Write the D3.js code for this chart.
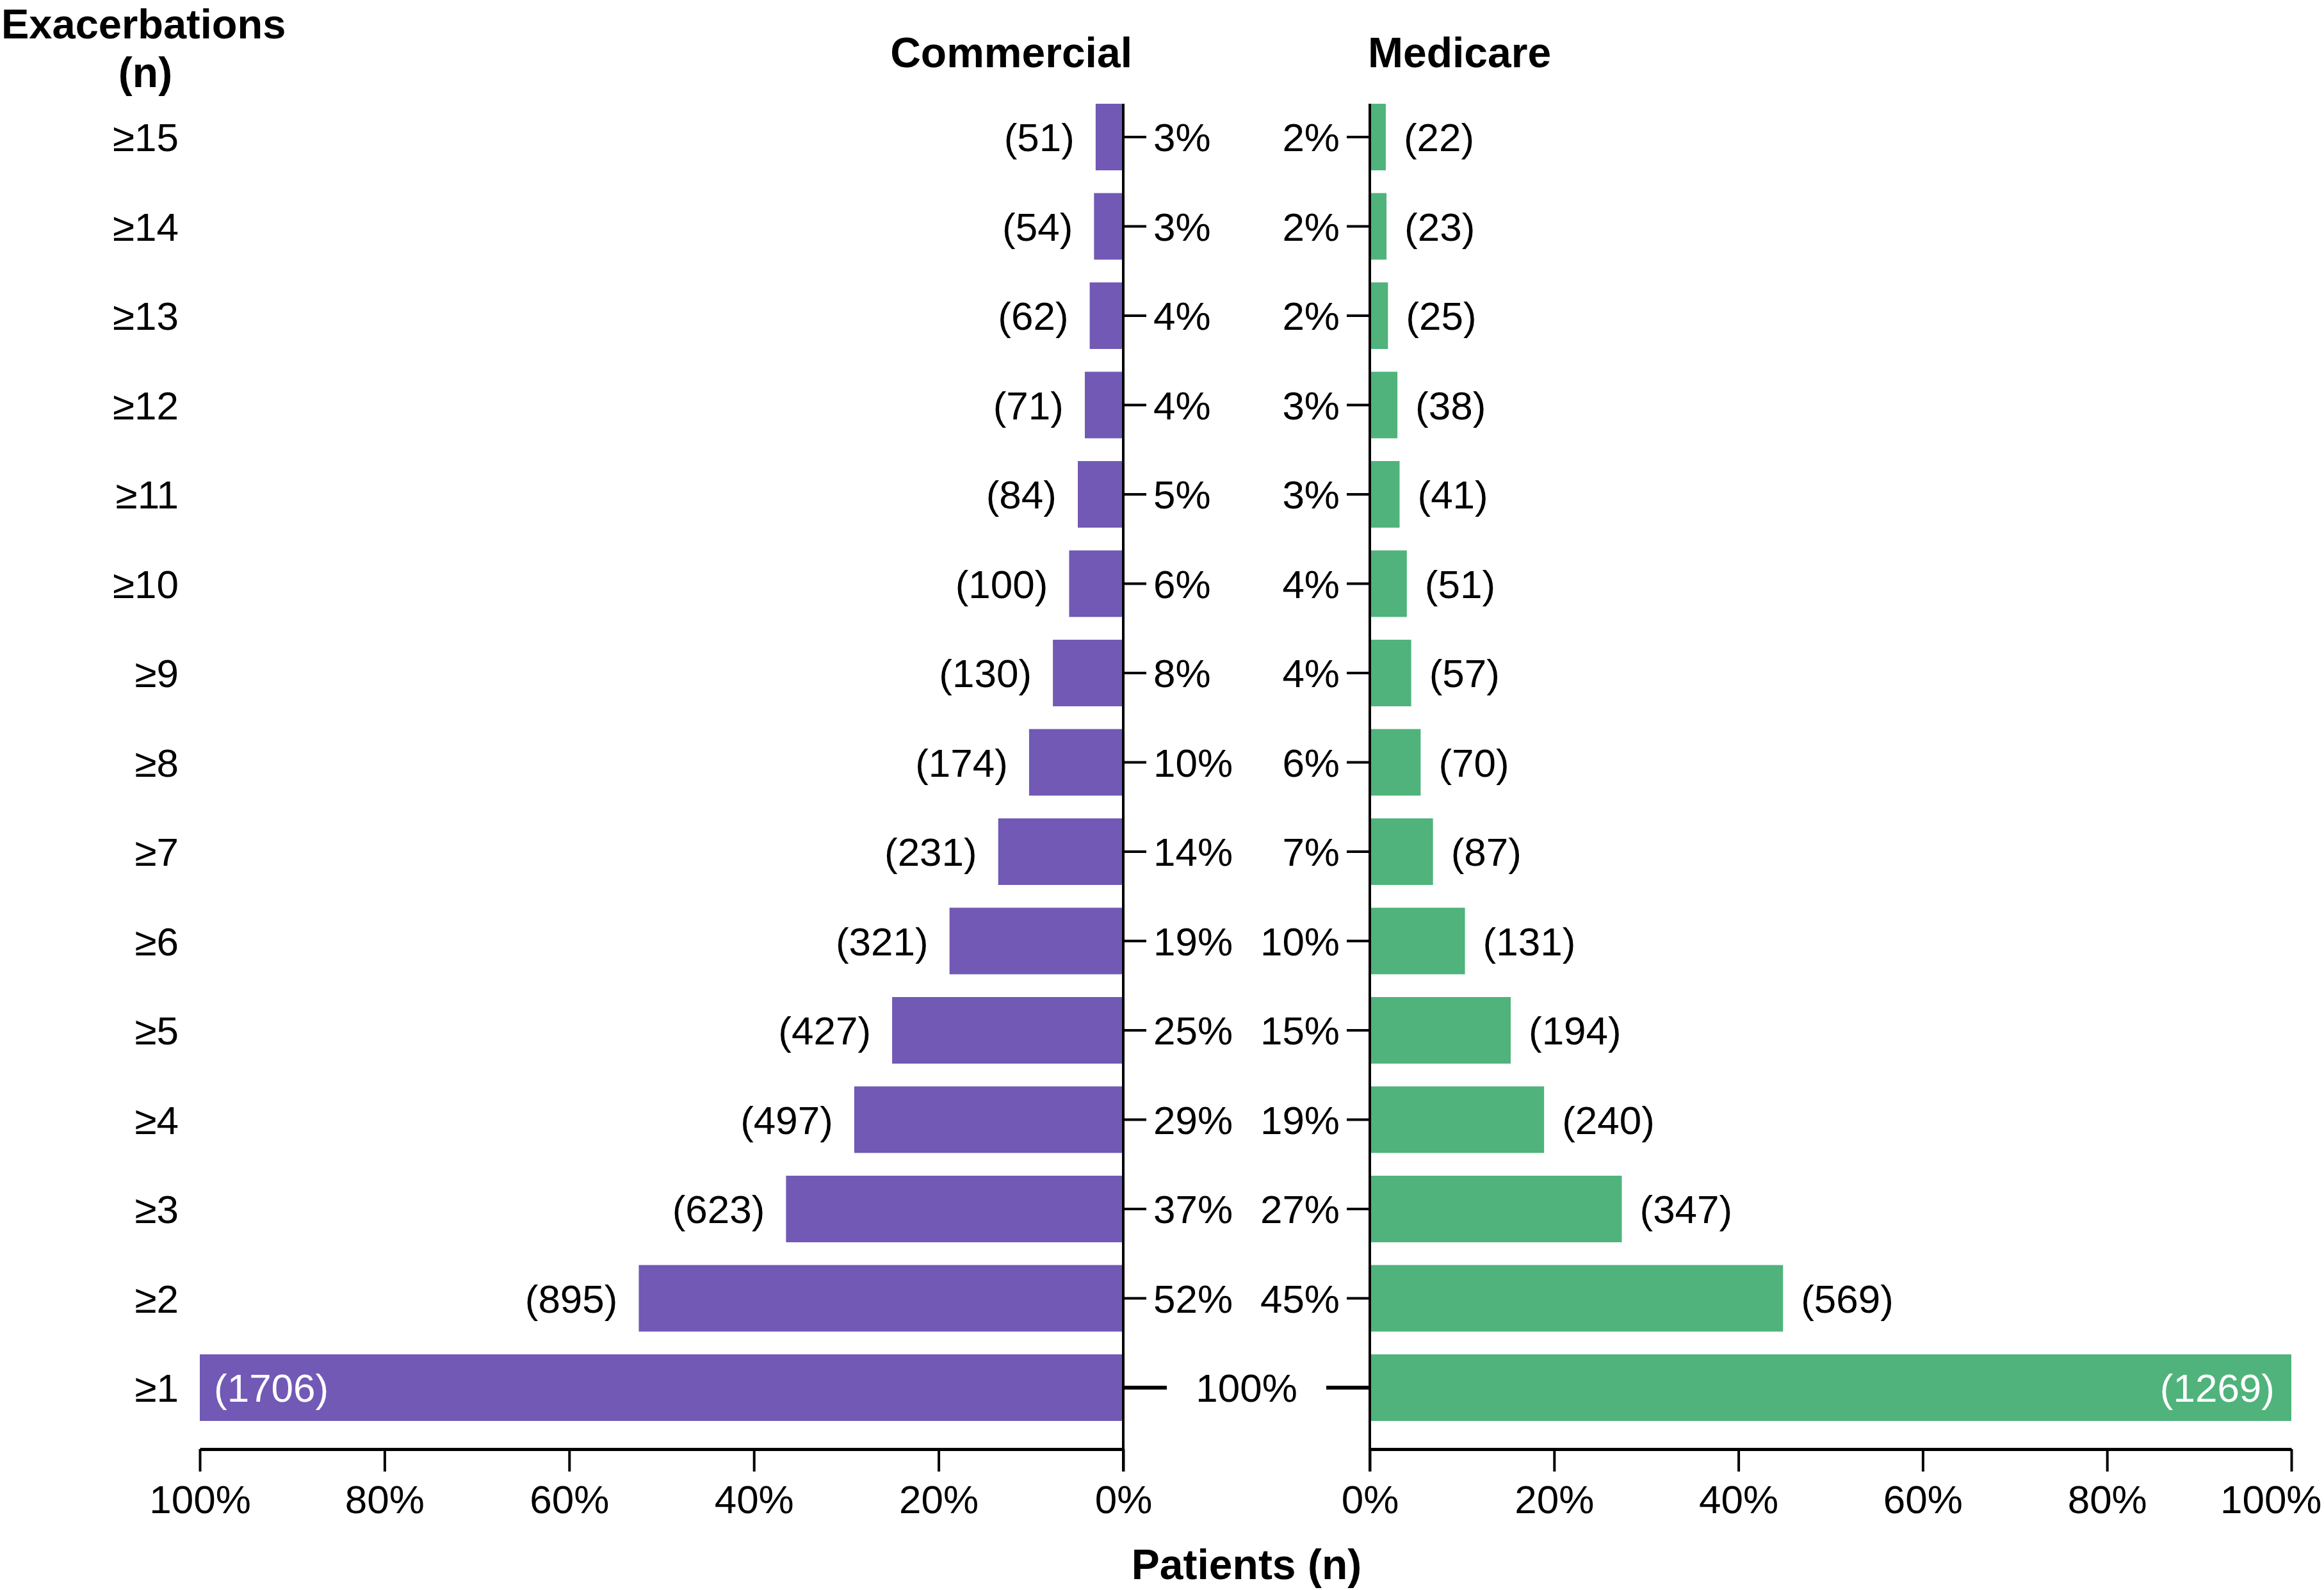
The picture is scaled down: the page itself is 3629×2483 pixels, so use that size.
<html>
<head>
<script src="https://d3js.org/d3.v7.min.js" charset="utf-8"></script>
<style>
body { margin: 0; background: #fff; }
text { font-family: "Liberation Sans", Arial, sans-serif; }
</style>
</head>
<body>
<div id="canvas"></div>
<script>
// rows from top (>=15) to bottom (>=1)
var categories = ["≥15","≥14","≥13","≥12","≥11","≥10","≥9","≥8","≥7","≥6","≥5","≥4","≥3","≥2","≥1"];
var commercialN = [51,54,62,71,84,100,130,174,231,321,427,497,623,895,1706];
var commercialPct = [3,3,4,4,5,6,8,10,14,19,25,29,37,52,100];
var medicareN = [22,23,25,38,41,51,57,70,87,131,194,240,347,569,1269];
var medicarePct = [2,2,2,3,3,4,4,6,7,10,15,19,27,45,100];
var xTicks = [0,0.2,0.4,0.6,0.8,1];

var W = 3629, H = 2483, fs = 62;
var purple = "#7159b5", green = "#4fb37b";

var svg = d3.select("#canvas").append("svg").attr("width", W).attr("height", H);

var y = d3.scaleBand().domain(categories).range([144.25, 2236.75])
	.paddingInner(0.255).paddingOuter(0.1275);
var xL = d3.scaleLinear().domain([0,1]).range([1754, 312]);
var xR = d3.scaleLinear().domain([0,1]).range([2139, 3578]);
var axisY = 2263, tickLen = 35;
var totC = commercialN[commercialN.length-1], totM = medicareN[medicareN.length-1];

// headers
svg.append("text").attr("x",2).attr("y",60).attr("text-anchor","start")
	.attr("font-size",65).attr("font-weight","bold").text("Exacerbations");
svg.append("text").attr("x",227).attr("y",136).attr("text-anchor","middle")
	.attr("font-size",66).attr("font-weight","bold").text("(n)");
svg.append("text").attr("x",1768).attr("y",105).attr("text-anchor","end")
	.attr("font-size",66).attr("font-weight","bold").text("Commercial");
svg.append("text").attr("x",xR(0)-3).attr("y",105).attr("text-anchor","start")
	.attr("font-size",66).attr("font-weight","bold").text("Medicare");
svg.append("text").attr("x",(xL(0)+xR(0))/2).attr("y",2466).attr("text-anchor","middle")
	.attr("font-size",66).attr("font-weight","bold").text("Patients (n)");

// category labels
svg.selectAll(".cat").data(categories).enter().append("text")
	.attr("class","cat")
	.attr("x",279)
	.attr("y",function(d){ return y(d)+y.bandwidth()/2; })
	.attr("dy","0.36em")
	.attr("text-anchor","end")
	.attr("font-size",fs)
	.text(function(d){ return d; });

// bars
svg.selectAll(".barL").data(commercialN).enter().append("rect")
	.attr("x",function(d){ return xL(d/totC); })
	.attr("y",function(d,i){ return y(categories[i]); })
	.attr("width",function(d){ return xL(0)-xL(d/totC); })
	.attr("height",y.bandwidth())
	.attr("fill",purple);
svg.selectAll(".barR").data(medicareN).enter().append("rect")
	.attr("x",xR(0))
	.attr("y",function(d,i){ return y(categories[i]); })
	.attr("width",function(d){ return xR(d/totM)-xR(0); })
	.attr("height",y.bandwidth())
	.attr("fill",green);

// count labels
var last = categories.length-1;
svg.selectAll(".nL").data(commercialN).enter().append("text")
	.attr("x",function(d,i){ return i===last ? xL(d/totC)+22 : xL(d/totC)-33; })
	.attr("y",function(d,i){ return y(categories[i])+y.bandwidth()/2; })
	.attr("dy","0.36em")
	.attr("text-anchor",function(d,i){ return i===last ? "start" : "end"; })
	.attr("fill",function(d,i){ return i===last ? "#fff" : "#000"; })
	.attr("font-size",fs)
	.text(function(d){ return "(" + d + ")"; });
svg.selectAll(".nR").data(medicareN).enter().append("text")
	.attr("x",function(d,i){ return i===last ? xR(d/totM)-26 : xR(d/totM)+28; })
	.attr("y",function(d,i){ return y(categories[i])+y.bandwidth()/2; })
	.attr("dy","0.36em")
	.attr("text-anchor",function(d,i){ return i===last ? "end" : "start"; })
	.attr("fill",function(d,i){ return i===last ? "#fff" : "#000"; })
	.attr("font-size",fs)
	.text(function(d){ return "(" + d + ")"; });

// x axes
function styleX(g){
	g.select(".domain").attr("stroke-width",5);
	g.selectAll(".tick line").attr("stroke-width",4);
	g.selectAll(".tick text").attr("font-size",fs).attr("font-family","Liberation Sans, Arial, sans-serif");
}
svg.append("g").attr("transform","translate(0,"+axisY+")")
	.call(d3.axisBottom(xL).tickValues(xTicks).tickSize(tickLen).tickSizeOuter(0).tickPadding(21).tickFormat(d3.format(".0%")))
	.call(styleX);
var gxR = svg.append("g").attr("transform","translate(0,"+axisY+")")
	.call(d3.axisBottom(xR).tickValues(xTicks).tickSize(tickLen).tickSizeOuter(0).tickPadding(21).tickFormat(d3.format(".0%")))
	.call(styleX);
// last label kept inside the picture, as in the original
gxR.selectAll(".tick").filter(function(d){ return d===1; }).select("text")
	.attr("text-anchor","end").attr("x",W-4-xR(1));

// y axes with percentage labels
function styleY(g){
	g.select(".domain").remove();
	g.selectAll(".tick line").attr("stroke-width",4);
	g.selectAll(".tick text").attr("font-size",fs).attr("font-family","Liberation Sans, Arial, sans-serif").attr("dy","0.36em");
	g.selectAll(".tick").filter(function(d){ return d===categories[last]; }).remove();
}
svg.append("g").attr("transform","translate("+xL(0)+",0)")
	.call(d3.axisRight(y).tickSize(36).tickPadding(11).tickFormat(function(d,i){ return commercialPct[i]+"%"; }))
	.call(styleY);
svg.append("g").attr("transform","translate("+xR(0)+",0)")
	.call(d3.axisLeft(y).tickSize(36).tickPadding(11).tickFormat(function(d,i){ return medicarePct[i]+"%"; }))
	.call(styleY);

// vertical axis lines
[xL(0), xR(0)].forEach(function(x){
	svg.append("line").attr("x1",x).attr("x2",x)
		.attr("y1",y(categories[0])).attr("y2",axisY+tickLen)
		.attr("stroke","#000").attr("stroke-width",4);
});

// the >=1 row: shared label in the middle with long ticks
var yc = y(categories[last])+y.bandwidth()/2;
svg.append("line").attr("x1",xL(0)).attr("x2",xL(0)+68).attr("y1",yc).attr("y2",yc)
	.attr("stroke","#000").attr("stroke-width",6);
svg.append("line").attr("x1",xR(0)).attr("x2",xR(0)-68).attr("y1",yc).attr("y2",yc)
	.attr("stroke","#000").attr("stroke-width",6);
svg.append("text").attr("x",(xL(0)+xR(0))/2).attr("y",yc).attr("dy","0.36em")
	.attr("text-anchor","middle").attr("font-size",fs).text(commercialPct[last]+"%");
</script>
</body>
</html>
